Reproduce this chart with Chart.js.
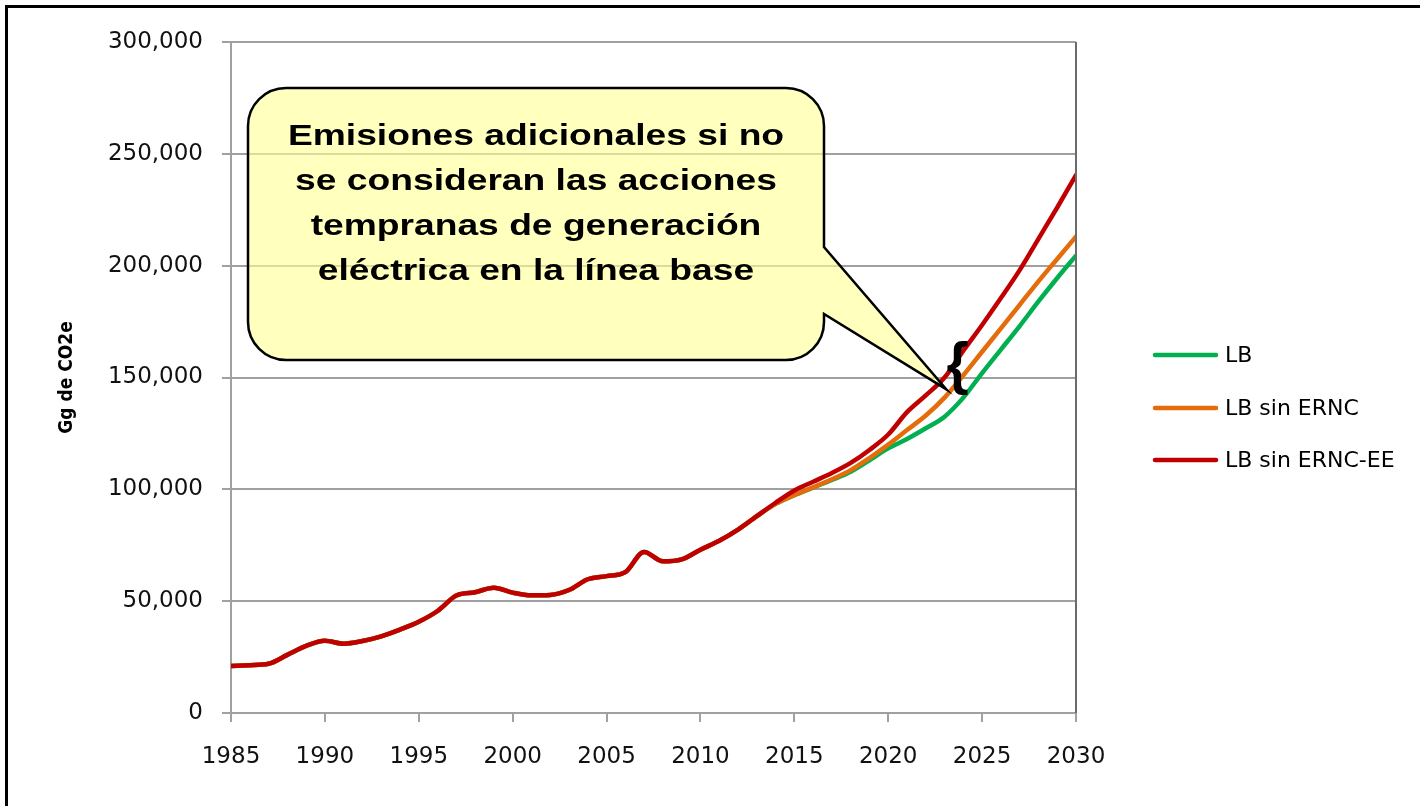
<html>
<head>
<meta charset="utf-8">
<script src="https://cdn.jsdelivr.net/npm/chart.js"></script>
<style>body{margin:0;background:#fff}</style>
</head>
<body>
<canvas id="myChart" width="1420" height="806"></canvas>
<script>
var years = [1985,1986,1987,1988,1989,1990,1991,1992,1993,1994,1995,1996,1997,1998,1999,2000,2001,2002,2003,2004,2005,2006,2007,2008,2009,2010,2011,2012,2013,2014,2015,2016,2017,2018,2019,2020,2021,2022,2023,2024,2025,2026,2027,2028,2029,2030];

var lb = [21000,21400,22000,26000,30000,32300,31000,32200,34300,37300,40800,45600,52500,54000,56000,53800,52600,52800,55000,59800,61200,63000,72000,67800,68700,73000,77000,82000,88000,93500,97400,100800,104200,107900,113000,118300,122500,127300,132500,141000,152000,162500,173000,184000,194500,204500];
var lbSinErnc = [21000,21400,22000,26000,30000,32300,31000,32200,34300,37300,40800,45600,52500,54000,56000,53800,52600,52800,55000,59800,61200,63000,72000,67800,68700,73000,77000,82000,88000,93500,97400,100900,104500,108600,114000,120000,126500,133000,141000,151000,161500,172000,182500,193000,203000,213000];
var lbSinErncEe = [21000,21400,22000,26000,30000,32300,31000,32200,34300,37300,40800,45600,52500,54000,56000,53800,52600,52800,55000,59800,61200,63000,72000,67800,68700,73000,77000,82000,88000,94000,99500,103400,107300,111800,117600,124500,134500,142000,150000,162000,173500,185500,198000,212000,226000,240500];

var seriesNames = ['LB', 'LB sin ERNC', 'LB sin ERNC-EE'];
var seriesColors = ['#00B050', '#E46C0A', '#C00000'];
var calloutLines = ['Emisiones adicionales si no', 'se consideran las acciones', 'tempranas de generación', 'eléctrica en la línea base'];

function toPoints(vals) {
    return vals.map(function(v, i) { return {x: years[i], y: v}; });
}

var extras = {
    id: 'extras',
    beforeDraw: function(chart) {
        var c = chart.ctx;
        c.save();
        c.fillStyle = '#fff';
        c.fillRect(0, 0, chart.width, chart.height);
        c.fillStyle = '#000';
        c.fillRect(5, 5, chart.width - 5, 3);
        c.fillRect(5, 5, 3, chart.height - 5);
        c.restore();
    },
    afterDraw: function(chart) {
        var c = chart.ctx, a = chart.chartArea;
        var xs = chart.scales.x, ys = chart.scales.y;
        c.save();
        // right edge of plot area
        c.strokeStyle = '#6b6b6b';
        c.lineWidth = 2;
        c.beginPath();
        c.moveTo(a.right, a.top);
        c.lineTo(a.right, a.bottom);
        c.stroke();

        // callout box with tail
        var bx = 248, by = 88, bw = 576, bh = 272, r = 38;
        var tipX = xs.getPixelForValue(2023.1), tipY = ys.getPixelForValue(144700);
        c.beginPath();
        c.moveTo(bx + r, by);
        c.lineTo(bx + bw - r, by);
        c.arcTo(bx + bw, by, bx + bw, by + r, r);
        c.lineTo(bx + bw, 247);
        c.lineTo(tipX, tipY);
        c.lineTo(bx + bw, 314);
        c.lineTo(bx + bw, by + bh - r);
        c.arcTo(bx + bw, by + bh, bx + bw - r, by + bh, r);
        c.lineTo(bx + r, by + bh);
        c.arcTo(bx, by + bh, bx, by + bh - r, r);
        c.lineTo(bx, by + r);
        c.arcTo(bx, by, bx + r, by, r);
        c.closePath();
        c.fillStyle = 'rgba(255,255,150,0.62)';
        c.fill();
        c.strokeStyle = '#000';
        c.lineWidth = 2.5;
        c.stroke();

        c.fillStyle = '#000';
        c.font = 'bold 30px "Liberation Sans", Arial, sans-serif';
        c.textAlign = 'center';
        c.textBaseline = 'alphabetic';
        calloutLines.forEach(function(t, i) {
            c.save();
            c.translate(536, 145 + i * 45);
            c.scale(1.24, 1);
            c.fillText(t, 0, 0);
            c.restore();
        });

        // brace
        c.font = 'bold 57px "Liberation Sans", Arial, sans-serif';
        c.fillText('{', xs.getPixelForValue(2023.7), 383);

        // legend
        var legendY = [355, 408, 460];
        c.textAlign = 'left';
        c.textBaseline = 'middle';
        c.font = '22px "DejaVu Sans", sans-serif';
        c.lineCap = 'round';
        chart.data.datasets.forEach(function(ds, i) {
            c.strokeStyle = ds.borderColor;
            c.lineWidth = 4.5;
            c.beginPath();
            c.moveTo(1155, legendY[i]);
            c.lineTo(1216, legendY[i]);
            c.stroke();
            c.fillStyle = '#000';
            c.fillText(ds.label, 1225, legendY[i] + 1);
        });
        c.restore();
    }
};

var dataObj = {
    type: 'line',
    data: {
        datasets: [
            {label: seriesNames[0], data: toPoints(lb), borderColor: seriesColors[0], backgroundColor: seriesColors[0], order: 2},
            {label: seriesNames[1], data: toPoints(lbSinErnc), borderColor: seriesColors[1], backgroundColor: seriesColors[1], order: 1},
            {label: seriesNames[2], data: toPoints(lbSinErncEe), borderColor: seriesColors[2], backgroundColor: seriesColors[2], order: 0}
        ]
    },
    options: {
        responsive: false,
        animation: false,
        layout: {padding: {left: 48, right: 344, top: 42, bottom: 0}},
        plugins: {legend: {display: false}, tooltip: {enabled: false}},
        elements: {
            point: {radius: 0},
            line: {borderWidth: 4.5, cubicInterpolationMode: 'monotone', borderCapStyle: 'round', borderJoinStyle: 'round'}
        },
        scales: {
            x: {
                type: 'linear', min: 1985, max: 2030,
                afterFit: function(s) { s.height = 93; },
                ticks: {stepSize: 5, padding: 21, color: '#111', maxRotation: 0, autoSkip: false,
                        font: {family: 'DejaVu Sans', size: 23},
                        callback: function(v) { return String(v); }},
                grid: {drawOnChartArea: false, tickLength: 9, color: '#a0a0a0', lineWidth: 2},
                border: {color: '#a0a0a0', width: 2}
            },
            y: {
                min: 0, max: 300000,
                afterFit: function(s) { s.width = 183; },
                ticks: {stepSize: 50000, padding: 19, color: '#111',
                        font: {family: 'DejaVu Sans', size: 23},
                        callback: function(v) { return v.toLocaleString('en-US'); }},
                grid: {color: '#a0a0a0', lineWidth: 2, tickLength: 9},
                border: {color: '#a0a0a0', width: 2},
                title: {display: true, text: 'Gg de CO2e', color: '#000',
                        font: {family: 'DejaVu Sans Condensed', size: 19, weight: 'bold'},
                        padding: {top: 8, bottom: 0}}
            }
        }
    },
    plugins: [extras]
};
var ctx = document.getElementById('myChart').getContext('2d');
window.myLine = new Chart(ctx, dataObj);
</script>
</body>
</html>
